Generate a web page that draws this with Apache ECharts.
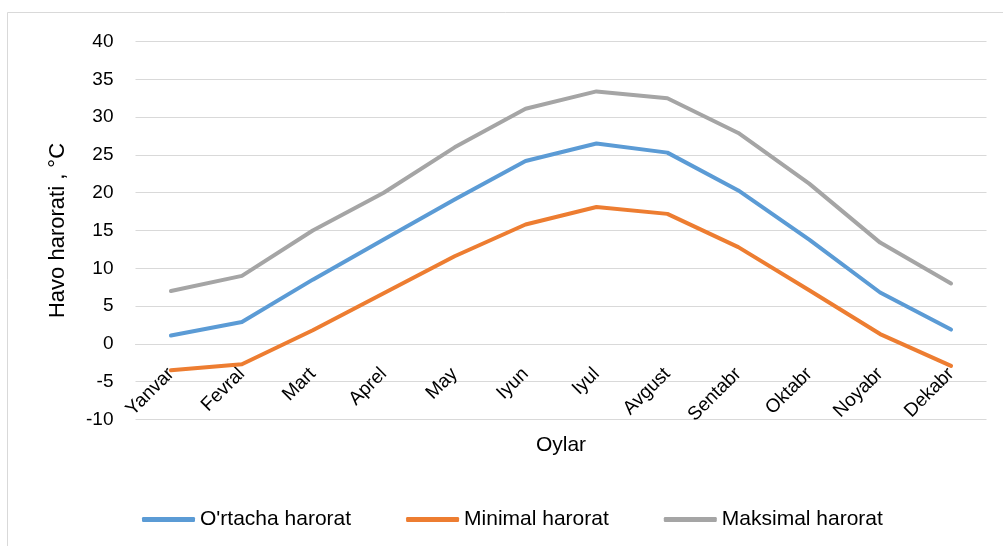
<!DOCTYPE html>
<html>
<head>
<meta charset="utf-8">
<script src="https://cdn.jsdelivr.net/npm/echarts@6/dist/echarts.min.js"></script>
<style>html,body{margin:0;padding:0;background:#fff}#c{width:1003px;height:546px}</style>
</head>
<body>
<div id="c"></div>
<script>
const categories = ['Yanvar','Fevral','Mart','Aprel','May','Iyun','Iyul','Avgust','Sentabr','Oktabr','Noyabr','Dekabr'];
const ortacha = [1.1, 2.9, 8.5, 13.8, 19.1, 24.2, 26.5, 25.3, 20.3, 13.8, 6.8, 1.9];
const minimal = [-3.5, -2.7, 1.8, 6.7, 11.6, 15.8, 18.1, 17.2, 12.8, 7.1, 1.3, -2.9];
const maksimal = [7.0, 9.0, 15.0, 20.0, 26.0, 31.1, 33.4, 32.5, 27.9, 21.2, 13.4, 8.0];
const seriesNames = ["O'rtacha harorat", 'Minimal harorat', 'Maksimal harorat'];
const colors = ['#5B9BD5', '#ED7D31', '#A5A5A5'];

const font = 'Liberation Sans, Arial, sans-serif';
const chart = echarts.init(document.getElementById('c'), null, {renderer: 'canvas'});
const mk = (name, data, color) => ({
  name, type: 'line', data, symbol: 'none', smooth: false,
  lineStyle: {width: 4, color, cap: 'round', join: 'round'},
  itemStyle: {color}
});
chart.setOption({
  animation: false,
  backgroundColor: '#fff',
  graphic: [{
    type: 'rect', shape: {x: 7.5, y: 12.5, width: 1020, height: 560},
    style: {fill: 'none', stroke: '#d9d9d9', lineWidth: 1}, silent: true, z: -1
  }],
  grid: {left: 135.5, right: 16.5, top: 41.5, bottom: 126.5, containLabel: false},
  legend: {
    top: 504, left: 137,
    itemWidth: 53, itemHeight: 5, itemGap: 55,
    icon: 'roundRect',
    textStyle: {fontFamily: font, fontSize: 21, color: '#000'},
    data: seriesNames
  },
  xAxis: {
    type: 'category', data: categories, boundaryGap: true,
    offset: -75.5,
    name: 'Oylar', nameLocation: 'middle', nameGap: 91,
    nameTextStyle: {fontFamily: font, fontSize: 21, color: '#000'},
    axisLine: {show: true, onZero: false, lineStyle: {color: '#d9d9d9', width: 1}},
    axisTick: {show: false},
    axisLabel: {rotate: 45, margin: 27, fontFamily: font, fontSize: 19, color: '#000', interval: 0}
  },
  yAxis: {
    type: 'value', min: -10, max: 40, interval: 5,
    name: 'Havo harorati , °C', nameLocation: 'middle', nameGap: 67, nameRotate: 90,
    nameTextStyle: {fontFamily: font, fontSize: 22, color: '#000'},
    axisLine: {show: false}, axisTick: {show: false},
    axisLabel: {margin: 22, fontFamily: font, fontSize: 19, color: '#000'},
    splitLine: {lineStyle: {color: '#d9d9d9', width: 1}}
  },
  series: [mk(seriesNames[0], ortacha, colors[0]), mk(seriesNames[1], minimal, colors[1]), mk(seriesNames[2], maksimal, colors[2])]
});
</script>
</body>
</html>
